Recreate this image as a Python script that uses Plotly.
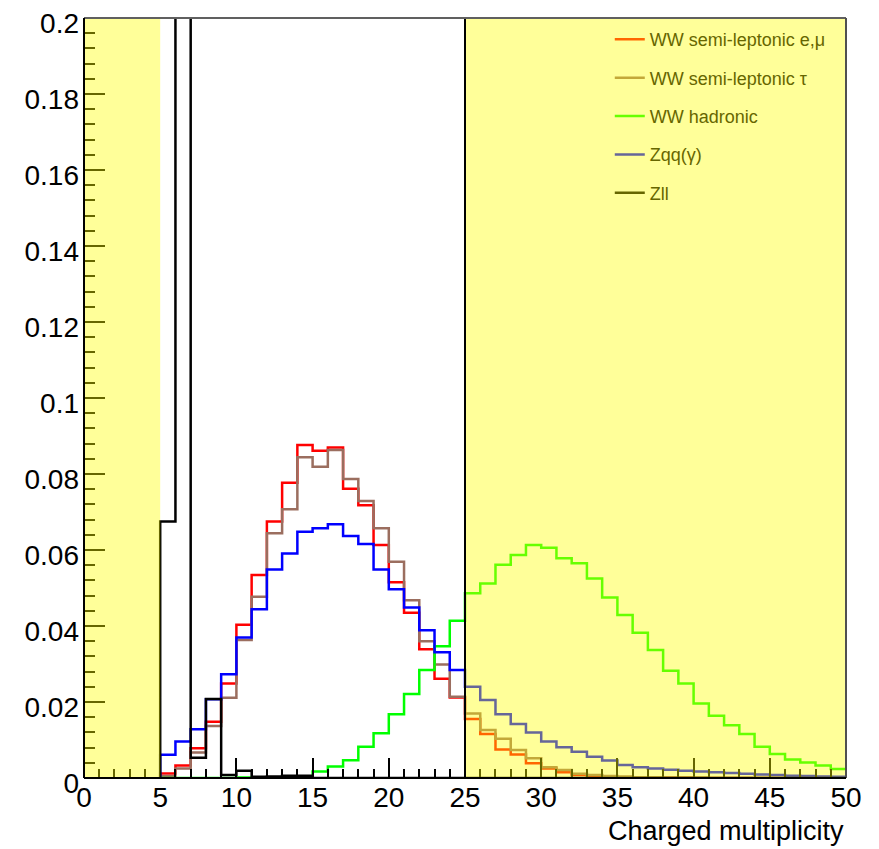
import plotly.graph_objects as go

# ---------------- data ----------------
bin_edges = list(range(5, 51))  # 45 bins from 5 to 50

ww_semilep_emu = [0.0012, 0.0033, 0.0078, 0.0148, 0.0249, 0.0403, 0.0534, 0.0675, 0.0777, 0.0876,
                  0.0861, 0.0870, 0.0761, 0.0718, 0.0613, 0.0515, 0.0435, 0.0339, 0.0261, 0.0212,
                  0.0155, 0.0116, 0.0075, 0.0062, 0.0039, 0.0025, 0.0015, 0.0008, 0.0005, 0.0003,
                  0.0002, 0.0001, 0.0001, 0.0001, 0.0001, 0.0, 0.0, 0.0, 0.0, 0.0,
                  0.0, 0.0, 0.0, 0.0, 0.0]
ww_semilep_tau = [0.0005, 0.0025, 0.0067, 0.0137, 0.0211, 0.0363, 0.0477, 0.0644, 0.0707, 0.0844,
                  0.0819, 0.0863, 0.0787, 0.0729, 0.0657, 0.0569, 0.0468, 0.0360, 0.0299, 0.0214,
                  0.0170, 0.0126, 0.0103, 0.0074, 0.0052, 0.0028, 0.0021, 0.0011, 0.0008, 0.0005,
                  0.0004, 0.0002, 0.0002, 0.0001, 0.0001, 0.0001, 0.0, 0.0, 0.0, 0.0,
                  0.0, 0.0, 0.0, 0.0, 0.0]
ww_hadronic = [0.0, 0.0, 0.0, 0.0, 0.0, 0.0001, 0.0001, 0.0002, 0.0003, 0.0004,
               0.0017, 0.0030, 0.0047, 0.0082, 0.0118, 0.0168, 0.0221, 0.0284, 0.0347, 0.0414,
               0.0486, 0.0512, 0.0561, 0.0587, 0.0613, 0.0606, 0.0578, 0.0565, 0.0525, 0.0475,
               0.0429, 0.0382, 0.0337, 0.0282, 0.0249, 0.0196, 0.0164, 0.0139, 0.0116, 0.0082,
               0.0063, 0.0049, 0.0041, 0.0033, 0.0024]
zqq = [0.0061, 0.0096, 0.0128, 0.0207, 0.0273, 0.0370, 0.0444, 0.0549, 0.0591, 0.0648,
       0.0657, 0.0668, 0.0637, 0.0616, 0.0549, 0.0497, 0.0449, 0.0389, 0.0331, 0.0284,
       0.0240, 0.0205, 0.0168, 0.0142, 0.0120, 0.0096, 0.0081, 0.0069, 0.0056, 0.0046,
       0.0034, 0.0028, 0.0025, 0.0022, 0.0019, 0.0017, 0.0015, 0.0013, 0.0011, 0.0009,
       0.0008, 0.0006, 0.0005, 0.0004, 0.0003]
zll = [0.0675, 0.35, 0.0053, 0.0208, 0.0008, 0.0019, 0.0003, 0.0004, 0.0006, 0.0006,
       0.0, 0.0, 0.0, 0.0, 0.0, 0.0, 0.0, 0.0, 0.0, 0.0,
       0.0, 0.0, 0.0, 0.0, 0.0, 0.0, 0.0, 0.0, 0.0, 0.0,
       0.0, 0.0, 0.0, 0.0, 0.0, 0.0, 0.0, 0.0, 0.0, 0.0,
       0.0, 0.0, 0.0, 0.0, 0.0]

series_names = ["WW semi-leptonic e,\u03bc", "WW semi-leptonic \u03c4", "WW hadronic",
                "Zqq(\u03b3)", "Zll"]
series_values = [ww_semilep_emu, ww_semilep_tau, ww_hadronic, zqq, zll]
series_colors = [(255, 0, 0), (155, 110, 95), (0, 255, 0), (0, 0, 255), (0, 0, 0)]

excluded_regions = [(0, 5), (25, 50)]   # shaded (cut) regions
cut_line = [25]

x_tick_vals = [0, 5, 10, 15, 20, 25, 30, 35, 40, 45, 50]
y_tick_vals = [0, 0.02, 0.04, 0.06, 0.08, 0.1, 0.12, 0.14, 0.16, 0.18, 0.2]
y_tick_text = ["0", "0.02", "0.04", "0.06", "0.08", "0.1", "0.12", "0.14", "0.16", "0.18", "0.2"]

# ---------------- figure ----------------
def rgb(c):
    return "rgb(%d,%d,%d)" % c

def tint(c, a=0.4):
    y = (255, 255, 0)
    return "rgb(%d,%d,%d)" % tuple(round((1 - a) * c[i] + a * y[i]) for i in range(3))

fig = go.Figure()

for i in range(5):
    vals = series_values[i]
    xs = [bin_edges[0]] + bin_edges
    ys = [0] + vals + [vals[-1]]
    fig.add_trace(go.Scatter(x=xs, y=ys, mode="lines",
                             line=dict(color=rgb(series_colors[i]), width=2.5, shape="hv"),
                             showlegend=False, hoverinfo="skip"))

# legend entries (legend sits under the shaded region in the original, so colours are tinted)
for i in range(5):
    fig.add_trace(go.Scatter(x=[None], y=[None], mode="lines", name=series_names[i],
                             legendgroup="g%d" % i,
                             line=dict(color=tint(series_colors[i]), width=2.5)))

shapes = []
for (a, b) in excluded_regions:
    shapes.append(dict(type="rect", xref="x", yref="paper", x0=a, x1=b, y0=0, y1=1,
                       fillcolor="rgba(255,255,0,0.4)", line=dict(width=0), layer="above"))
for c in cut_line:
    shapes.append(dict(type="line", xref="x", yref="paper", x0=c, x1=c, y0=0, y1=1,
                       line=dict(color="black", width=2), layer="above"))
# frame
shapes.append(dict(type="line", xref="paper", yref="paper", x0=0, x1=1, y0=1, y1=1,
                   line=dict(color="#606060", width=2), layer="above"))
shapes.append(dict(type="line", xref="paper", yref="paper", x0=1, x1=1, y0=0, y1=1,
                   line=dict(color="#505050", width=2), layer="above"))
shapes.append(dict(type="line", xref="paper", yref="paper", x0=0, x1=0, y0=0, y1=1,
                   line=dict(color="black", width=2), layer="above"))
shapes.append(dict(type="line", xref="paper", yref="paper", x0=0, x1=1, y0=0, y1=0,
                   line=dict(color="black", width=2), layer="above"))

# the page places the figure 8px from the top-left corner, so size it to fill the window
fig.update_layout(
    width=871, height=841,
    margin=dict(l=76, r=33, t=10, b=71, autoexpand=False),
    paper_bgcolor="white", plot_bgcolor="white",
    font=dict(family="Liberation Sans, Arial, sans-serif", color="black"),
    shapes=shapes,
    showlegend=True,
    legend=dict(x=0.690, y=0.996, xanchor="left", yanchor="top",
                bgcolor="rgba(0,0,0,0)", font=dict(size=18, color="#666600"),
                tracegroupgap=12, traceorder="grouped"),
    annotations=[dict(text="Charged multiplicity", xref="paper", yref="paper", x=1.0, y=-0.047,
                      xanchor="right", yanchor="top", showarrow=False,
                      font=dict(size=27, color="black"))],
)
fig.update_xaxes(range=[0, 50], tickvals=x_tick_vals, ticks="inside", ticklen=20, tickwidth=2,
                 tickcolor="black", showgrid=False, zeroline=False, showline=False, automargin=False,
                 tickfont=dict(size=28), ticklabeloverflow="allow",
                 minor=dict(dtick=1, ticks="inside", ticklen=9, tickwidth=2, tickcolor="black", showgrid=False))
fig.update_yaxes(range=[0, 0.2], tickvals=y_tick_vals, ticktext=y_tick_text, ticks="inside", ticklen=21,
                 tickwidth=2, tickcolor="black", showgrid=False, zeroline=False, showline=False,
                 automargin=False, tickfont=dict(size=28), ticklabelstandoff=4, ticklabelshift=5,
                 ticklabeloverflow="allow",
                 minor=dict(dtick=0.004, tick0=0, ticks="inside", ticklen=11, tickwidth=2, tickcolor="black",
                            showgrid=False))

fig.write_html("out.html")
